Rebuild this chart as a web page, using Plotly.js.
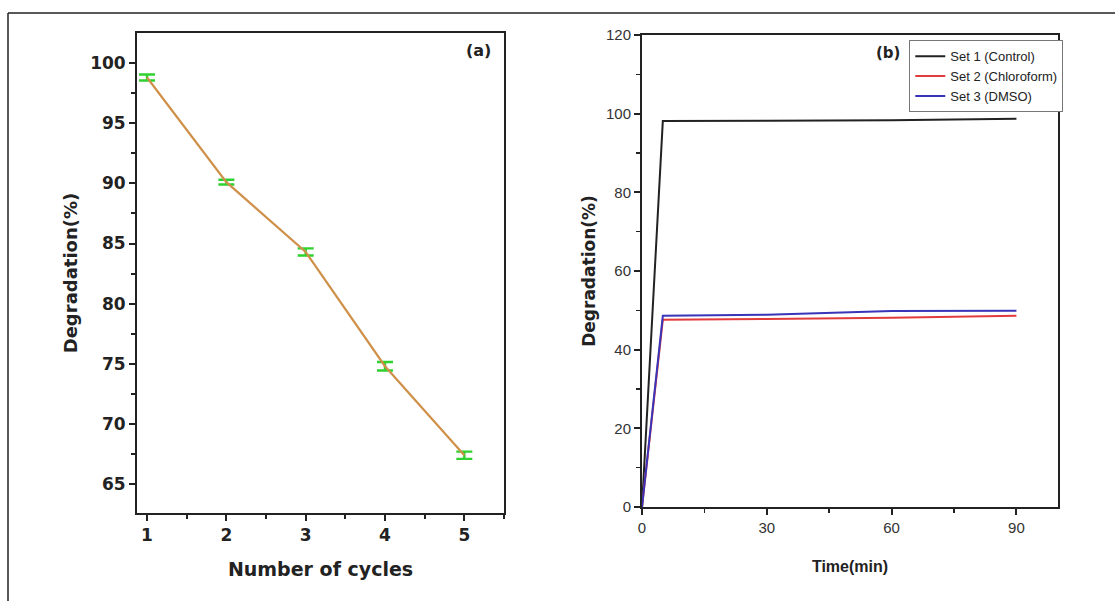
<!DOCTYPE html>
<html>
<head>
<meta charset="utf-8">
<script src="https://cdn.plot.ly/plotly-3.0.1.min.js"></script>
<style>html,body{margin:0;padding:0;background:#fff;}#chart{width:1115px;height:601px;}</style>
</head>
<body>
<div id="chart"></div>
<script>
// Panel (a): reusability cycles
const cycles = [1, 2, 3, 4, 5];
const cycleDegradation = [98.8, 90.1, 84.3, 74.8, 67.4];
const cycleError = [0.25, 0.2, 0.3, 0.35, 0.3];

// Panel (b): scavenger study
const timeMin = [0, 5, 30, 60, 90];
const set1Control = [0, 98.1, 98.2, 98.3, 98.7];
const set2Chloroform = [0, 47.6, 47.8, 48.1, 48.6];
const set3DMSO = [0, 48.6, 48.9, 49.8, 49.9];
const seriesNames = ['Set 1 (Control)', 'Set 2 (Chloroform)', 'Set 3 (DMSO)'];

const wideBold = 'DejaVu Sans, Liberation Sans, sans-serif';
const plainFont = 'Liberation Sans, Arial, sans-serif';

const traces = [
  {
    x: cycles, y: cycleDegradation, type: 'scatter', mode: 'lines',
    line: {color: '#cf9049', width: 2.2},
    error_y: {type: 'data', array: cycleError, visible: true, color: '#2fd12f', thickness: 2.4, width: 8},
    xaxis: 'x', yaxis: 'y', showlegend: false, hoverinfo: 'x+y'
  },
  {
    x: timeMin, y: set1Control, type: 'scatter', mode: 'lines', name: seriesNames[0],
    line: {color: '#222222', width: 2}, xaxis: 'x2', yaxis: 'y2'
  },
  {
    x: timeMin, y: set2Chloroform, type: 'scatter', mode: 'lines', name: seriesNames[1],
    line: {color: '#e23b3b', width: 2}, xaxis: 'x2', yaxis: 'y2'
  },
  {
    x: timeMin, y: set3DMSO, type: 'scatter', mode: 'lines', name: seriesNames[2],
    line: {color: '#3a35b8', width: 2}, xaxis: 'x2', yaxis: 'y2'
  }
];

const axisCommon = {
  showgrid: false, zeroline: false, showline: true, linecolor: '#222', linewidth: 2,
  mirror: true, ticks: 'outside', ticklen: 6, tickwidth: 2, tickcolor: '#222'
};

const layout = {
  width: 1115, height: 601,
  margin: {l: 0, r: 0, t: 0, b: 0},
  paper_bgcolor: '#fff', plot_bgcolor: '#fff',
  showlegend: true,
  xaxis: Object.assign({}, axisCommon, {
    domain: [0.1229, 0.452], anchor: 'y', range: [0.874, 5.5],
    tickvals: [1, 2, 3, 4, 5],
    minor: {tickvals: [1.5, 2.5, 3.5, 4.5, 5.5], ticks: 'outside', ticklen: 4, tickwidth: 2, tickcolor: '#222'},
    tickfont: {family: wideBold, size: 17, color: '#222', weight: 'bold'},
    title: {text: 'Number of cycles', font: {family: wideBold, size: 19, color: '#222', weight: 'bold'}, standoff: 18}
  }),
  yaxis: Object.assign({}, axisCommon, {
    domain: [0.1464, 0.9451], anchor: 'x', range: [62.6, 102.5],
    tickvals: [65, 70, 75, 80, 85, 90, 95, 100],
    minor: {tickvals: [67.5, 72.5, 77.5, 82.5, 87.5, 92.5, 97.5], ticks: 'outside', ticklen: 4, tickwidth: 2, tickcolor: '#222'},
    tickfont: {family: wideBold, size: 17, color: '#222', weight: 'bold'},
    title: {text: 'Degradation(%)', font: {family: wideBold, size: 18, color: '#222', weight: 'bold'}, standoff: 8}
  }),
  xaxis2: Object.assign({}, axisCommon, {
    domain: [0.5758, 0.9489], anchor: 'y2', range: [0, 100],
    tickvals: [0, 30, 60, 90],
    minor: {tickvals: [15, 45, 75], ticks: 'outside', ticklen: 4, tickwidth: 1.5, tickcolor: '#222'},
    tickfont: {family: plainFont, size: 15, color: '#333'},
    title: {text: 'Time(min)', font: {family: plainFont, size: 16, color: '#222', weight: 'bold'}, standoff: 26}
  }),
  yaxis2: Object.assign({}, axisCommon, {
    domain: [0.1564, 0.9418], anchor: 'x2', range: [0, 120],
    tickvals: [0, 20, 40, 60, 80, 100, 120],
    minor: {tickvals: [10, 30, 50, 70, 90, 110], ticks: 'outside', ticklen: 4, tickwidth: 1.5, tickcolor: '#222'},
    tickfont: {family: plainFont, size: 15, color: '#333'},
    title: {text: 'Degradation(%)', font: {family: wideBold, size: 17, color: '#222', weight: 'bold'}, standoff: 6}
  }),
  legend: {
    x: 0.8155, y: 0.933, xanchor: 'left', yanchor: 'top',
    bgcolor: '#fff', bordercolor: '#777', borderwidth: 1,
    font: {family: plainFont, size: 13, color: '#222'},
    tracegroupgap: 0, itemwidth: 30
  },
  annotations: [
    {text: '(a)', xref: 'paper', yref: 'paper', x: 478 / 1115, y: 1 - 50 / 601, showarrow: false,
     font: {family: wideBold, size: 16, color: '#222', weight: 'bold'}, xanchor: 'center', yanchor: 'middle'},
    {text: '(b)', xref: 'paper', yref: 'paper', x: 888 / 1115, y: 1 - 53 / 601, showarrow: false,
     font: {family: wideBold, size: 15, color: '#222', weight: 'bold'}, xanchor: 'center', yanchor: 'middle'}
  ],
  shapes: [
    {type: 'line', xref: 'paper', yref: 'paper', x0: 8 / 1115, x1: 1, y0: 1 - 13 / 601, y1: 1 - 13 / 601, line: {color: '#222', width: 1.5}},
    {type: 'line', xref: 'paper', yref: 'paper', x0: 8 / 1115, x1: 8 / 1115, y0: 0, y1: 1 - 13 / 601, line: {color: '#222', width: 1.5}}
  ]
};

Plotly.newPlot('chart', traces, layout, {displayModeBar: false, staticPlot: true});
</script>
</body>
</html>
